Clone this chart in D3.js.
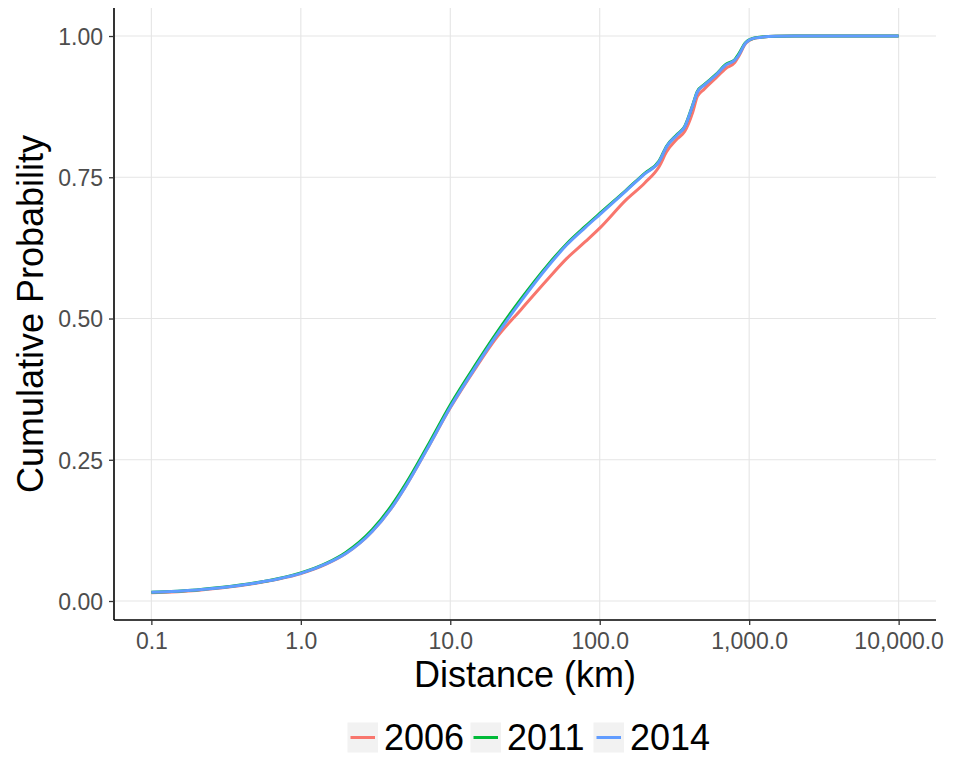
<!DOCTYPE html>
<html>
<head>
<meta charset="utf-8">
<script src="https://d3js.org/d3.v7.min.js"></script>
<style>
  html, body { margin: 0; padding: 0; background: #fff; }
  svg { display: block; font-family: "Liberation Sans", Arial, sans-serif; }
</style>
</head>
<body>
<svg id="chart" width="953" height="761"></svg>
<script>
// ---- Data ----
const distanceKm = [0.1,0.2,0.3,0.5,0.7,1,1.5,2,3,4,5,7,10,15,20,30,45,60,80,100,150,200,250,280,330,370,420,450,500,600,700,800,850,950,1100,1500,2000,10000];
const y2006 = [0.0145,0.0188,0.0233,0.0315,0.0385,0.0485,0.066,0.084,0.123,0.163,0.202,0.269,0.342,0.415,0.463,0.517,0.570,0.606,0.636,0.660,0.710,0.740,0.769,0.795,0.818,0.831,0.866,0.893,0.906,0.926,0.943,0.953,0.964,0.987,0.9965,0.9995,1.0,1.0];
const y2011 = [0.0157,0.0197,0.0242,0.0323,0.0395,0.0497,0.0675,0.086,0.126,0.167,0.206,0.273,0.347,0.421,0.471,0.536,0.595,0.632,0.663,0.686,0.727,0.757,0.779,0.805,0.826,0.840,0.879,0.902,0.914,0.932,0.950,0.958,0.968,0.989,0.997,0.9995,1.0,1.0];
const y2014 = [0.0157,0.0196,0.024,0.032,0.039,0.049,0.0665,0.084,0.123,0.163,0.202,0.269,0.343,0.417,0.467,0.532,0.592,0.630,0.661,0.684,0.726,0.756,0.778,0.804,0.825,0.839,0.878,0.901,0.913,0.931,0.949,0.957,0.966,0.988,0.9967,0.9995,1.0,1.0];
const seriesNames = ["2006","2011","2014"];
const seriesColors = ["#F8766D","#00BA38","#619CFF"];
const xTicks = [0.1,1,10,100,1000,10000];
const yTicks = [0,0.25,0.5,0.75,1];

const series = [y2006, y2011, y2014].map((vals, i) => ({
  name: seriesNames[i], color: seriesColors[i],
  points: distanceKm.map((d, j) => ({x: d, y: vals[j]}))
}));

// ---- Layout ----
const svg = d3.select("#chart");
const pLeft = 114, pRight = 936, pTop = 8, pBottom = 620;

const lx0 = -1, lx1 = 4, lpad = (lx1 - lx0) * 0.05;
const x = d3.scaleLog()
  .domain([Math.pow(10, lx0 - lpad), Math.pow(10, lx1 + lpad)])
  .range([pLeft, pRight]);
const y = d3.scaleLinear().domain([-0.0336, 1.0496]).range([pBottom, pTop]);

// grid
const g = svg.append("g");
g.selectAll(".vgrid").data(xTicks).enter().append("line")
  .attr("x1", d => x(d)).attr("x2", d => x(d))
  .attr("y1", pTop).attr("y2", pBottom)
  .attr("stroke", "#E5E5E5").attr("stroke-width", 1.1);
g.selectAll(".hgrid").data(yTicks).enter().append("line")
  .attr("x1", pLeft).attr("x2", pRight)
  .attr("y1", d => y(d)).attr("y2", d => y(d))
  .attr("stroke", "#E5E5E5").attr("stroke-width", 1.1);

// lines
const line = d3.line().x(d => x(d.x)).y(d => y(d.y)).curve(d3.curveMonotoneX);
svg.append("g").selectAll("path").data(series).enter().append("path")
  .attr("d", d => line(d.points))
  .attr("fill", "none")
  .attr("stroke", d => d.color)
  .attr("stroke-width", 3)
  .attr("stroke-linejoin", "round");

// axes
const xAxis = d3.axisBottom(x).tickValues(xTicks).tickFormat(d3.format(",.1f")).tickSize(5).tickPadding(6);
const yAxis = d3.axisLeft(y).tickValues(yTicks).tickFormat(d3.format(".2f")).tickSize(5).tickPadding(6);

const gx = svg.append("g").attr("transform", `translate(0,${pBottom})`).call(xAxis);
const gy = svg.append("g").attr("transform", `translate(${pLeft},0)`).call(yAxis);
[gx, gy].forEach(a => {
  a.select(".domain").attr("stroke", "#000").attr("stroke-width", 1.6);
  a.selectAll(".tick line").attr("stroke", "#333").attr("stroke-width", 1.3);
  a.selectAll(".tick text").attr("fill", "#4D4D4D").attr("font-size", 23)
    .attr("font-family", "'Liberation Sans', Arial, sans-serif");
});
gx.select(".domain").attr("d", `M${pLeft},0H${pRight}`);
gy.select(".domain").attr("d", `M0,${pTop}V${pBottom}`);
gx.selectAll(".tick text").attr("dy", "0.78em");
gy.selectAll(".tick text").attr("dy", "0.36em");

// axis titles
svg.append("text").attr("x", (pLeft + pRight) / 2).attr("y", 687)
  .attr("text-anchor", "middle").attr("font-size", 36).attr("fill", "#000")
  .text("Distance (km)");
svg.append("text").attr("transform", `translate(43,${(pTop + pBottom) / 2}) rotate(-90)`)
  .attr("text-anchor", "middle").attr("font-size", 36).attr("fill", "#000")
  .text("Cumulative Probability");

// legend
const legend = svg.append("g");
const keyX = [347.5, 470.5, 593.5];
series.forEach((s, i) => {
  const lg = legend.append("g").attr("transform", `translate(${keyX[i]},722.5)`);
  lg.append("rect").attr("width", 30.5).attr("height", 30).attr("fill", "#F2F2F2");
  lg.append("line").attr("x1", 3).attr("x2", 27.5).attr("y1", 15).attr("y2", 15)
    .attr("stroke", s.color).attr("stroke-width", 3);
  lg.append("text").attr("x", 36.5).attr("y", 27.5).attr("font-size", 36).attr("fill", "#000")
    .text(s.name);
});
</script>
</body>
</html>
